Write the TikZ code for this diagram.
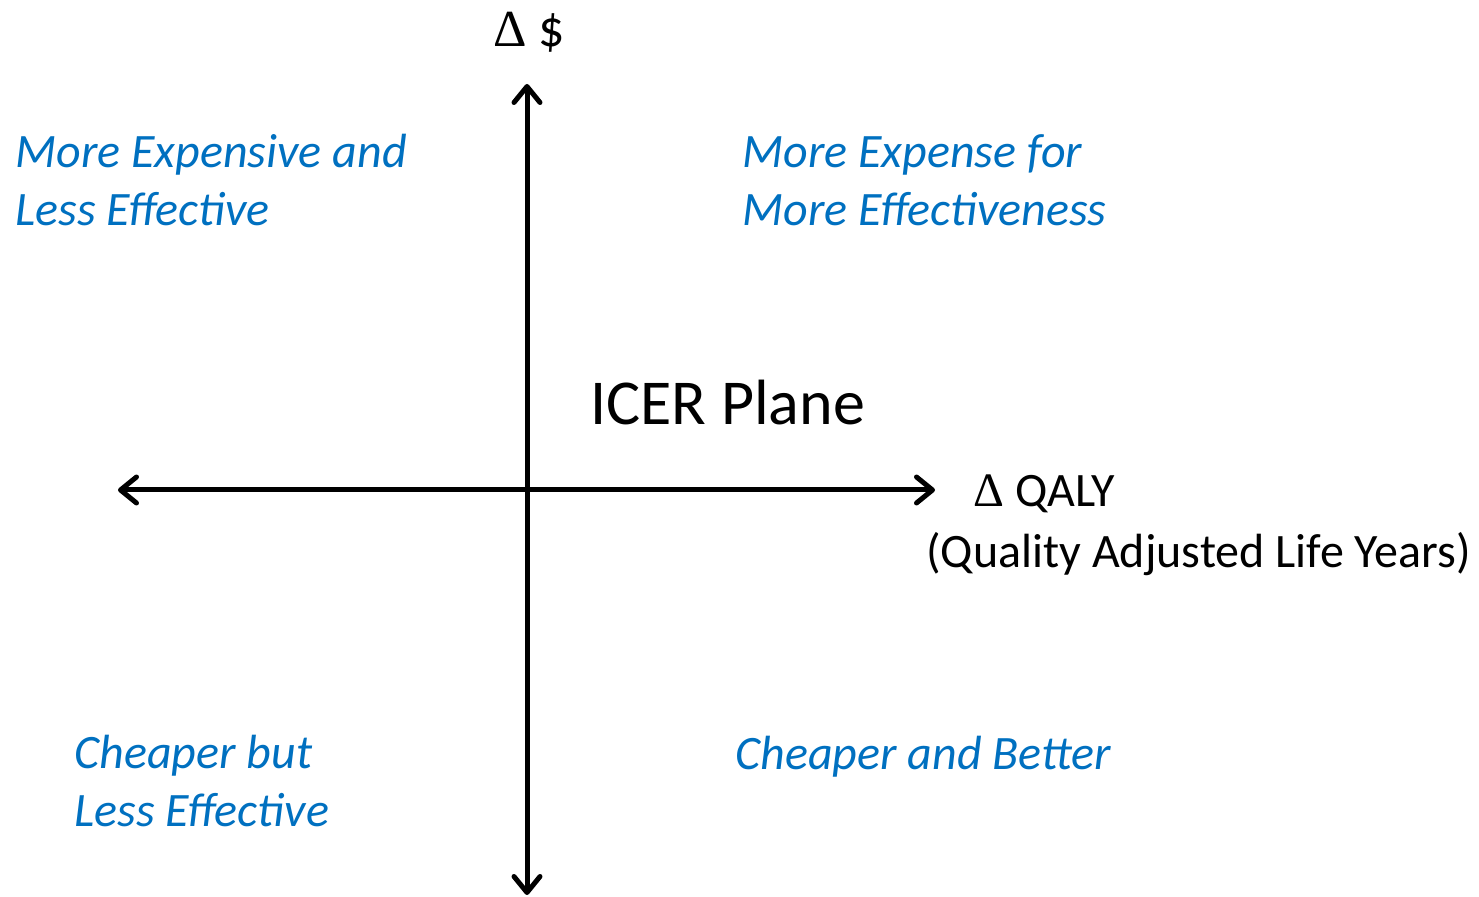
\documentclass[tikz,border=0pt]{standalone}
\usepackage{fontspec}
\setmainfont{Carlito}
\newfontfamily\deltafont{Liberation Serif}
\usetikzlibrary{arrows.meta}
\definecolor{quadblue}{RGB}{0,112,192}

\begin{document}
\begin{tikzpicture}[x=0.5pt,y=-0.5pt]
    \tikzstyle{axis}=[line width=2.5pt,{Straight Barb[length=8pt,width=13pt,round]}-{Straight Barb[length=8pt,width=13pt,round]}]
    \tikzstyle{quadrant}=[anchor=base west,align=left,inner sep=0,text=quadblue,
        font=\fontsize{24}{29}\selectfont\itshape]
    \tikzstyle{axis label}=[inner sep=0,font=\fontsize{24}{29}\selectfont]

    \useasboundingbox (0,0) rectangle (1479,897);

    % ends of the axes
    \coordinate (top) at (527,84);
    \coordinate (bottom) at (527,895);
    \coordinate (left) at (118,490);
    \coordinate (right) at (935,490);

    \draw[axis] (left) -- (right);
    \draw[axis] (bottom) -- (top);

    % axis labels
    \node(dcost)[axis label,anchor=base,font=\fontsize{26}{30}\selectfont] at (529,47) {{\deltafont Δ} \$};
    \node(dqaly)[axis label,anchor=base west] at (973,507) {{\deltafont Δ} QALY};
    \node(qaly)[axis label,anchor=base west] at (926,568) {(Quality Adjusted Life Years)};

    % quadrants (base = last line)
    \node(nw)[quadrant] at (15,226) {More Expensive and\\Less Effective};
    \node(ne)[quadrant] at (742,226) {More Expense for\\More Effectiveness};
    \node(sw)[quadrant] at (74,827) {Cheaper but\\Less Effective};
    \node(se)[quadrant] at (735,770) {Cheaper and Better};

    \node(title)[anchor=base west,inner sep=0,font=\fontsize{32}{38}\selectfont] at (590,425) {ICER Plane};
\end{tikzpicture}
\end{document}
